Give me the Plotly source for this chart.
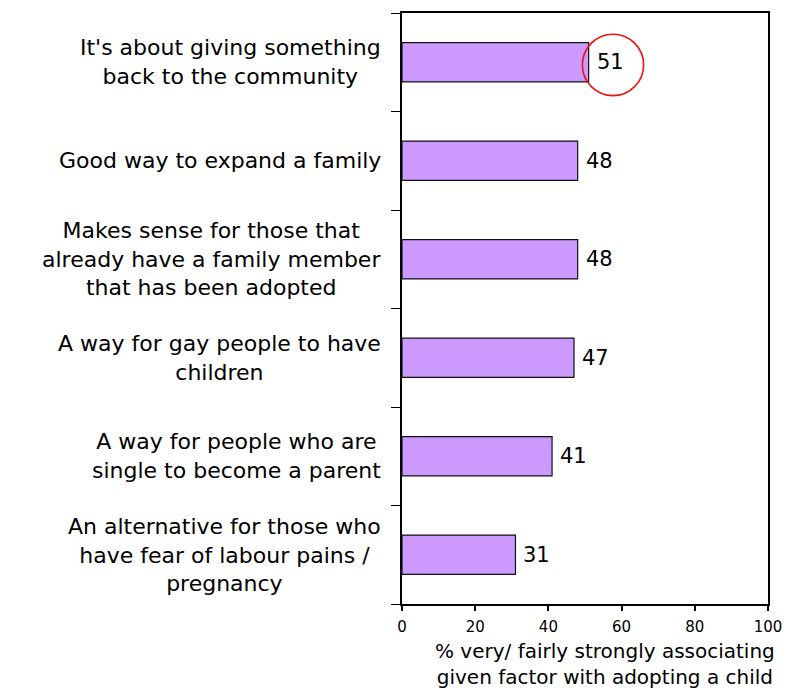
import plotly.graph_objects as go

# Survey factors, listed top to bottom
categories = [
    "It's about giving something<br>back to the community",
    "Good way to expand a family",
    "Makes sense for those that<br>already have a family member<br>that has been adopted",
    "A way for gay people to have<br>children",
    "A way for people who are<br>single to become a parent",
    "An alternative for those who<br>have fear of labour pains /<br>pregnancy",
]
values = [51, 48, 48, 47, 41, 31]
x_ticks = [0, 20, 40, 60, 80, 100]
x_title = "% very/ fairly strongly associating<br>given factor with adopting a child"

FONT = "DejaVu Sans"
y_idx = list(range(len(categories)))

fig = go.Figure()
fig.add_trace(go.Bar(
    x=values,
    y=y_idx,
    orientation="h",
    width=0.4,
    marker=dict(color="#CC99FF", line=dict(color="#111111", width=1.2)),
    hoverinfo="skip",
))

annotations = []
# category labels, centred line by line to the left of the axis
for i, cat in enumerate(categories):
    annotations.append(dict(
        x=0, xref="x", xanchor="right", xshift=-19,
        y=i, yref="y", yanchor="middle",
        text=cat, showarrow=False, align="center",
        font=dict(family=FONT, size=22, color="black"),
    ))
# value labels at bar ends
for i, v in enumerate(values):
    annotations.append(dict(
        x=v, xref="x", xanchor="left", xshift=6,
        y=i, yref="y", yanchor="middle",
        text=str(v), showarrow=False,
        font=dict(family=FONT, size=21, color="black"),
    ))
# axis title, resting on the bottom edge
annotations.append(dict(
    x=0.555, xref="paper", xanchor="center",
    y=-0.148, yref="paper", yanchor="bottom",
    text=x_title, showarrow=False, align="center",
    font=dict(family=FONT, size=20, color="black"),
))

# highlight ring around the top value
cx, cy, rx, ry = 57.65, 0.027, 8.37, 0.312
shapes = [dict(
    type="circle", xref="x", yref="y",
    x0=cx - rx, x1=cx + rx, y0=cy - ry, y1=cy + ry,
    line=dict(color="#EE1111", width=1.6),
)]

fig.update_layout(
    width=806, height=694,
    margin=dict(l=402, r=38, t=11, b=90),
    paper_bgcolor="white", plot_bgcolor="white",
    showlegend=False,
    bargap=0.6,
    annotations=annotations,
    shapes=shapes,
    xaxis=dict(
        range=[0, 100], tickvals=x_ticks, ticktext=[str(t) for t in x_ticks],
        showgrid=False, zeroline=False,
        showline=True, linecolor="black", linewidth=2, mirror=True,
        ticks="outside", ticklen=5, tickcolor="black", tickwidth=1.5,
        ticklabelstandoff=3,
        tickfont=dict(family=FONT, size=15, color="black"),
    ),
    yaxis=dict(
        range=[len(categories) - 0.5, -0.5],
        tickvals=[i - 0.5 for i in range(len(categories) + 1)],
        showticklabels=False,
        showgrid=False, zeroline=False,
        showline=True, linecolor="black", linewidth=2, mirror=True,
        ticks="outside", ticklen=9, tickcolor="black", tickwidth=1,
    ),
)

fig.write_html("out.html")
